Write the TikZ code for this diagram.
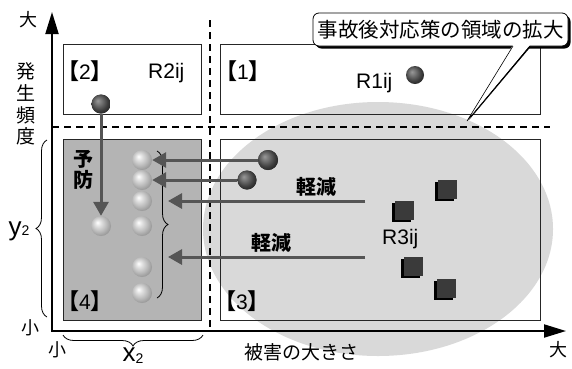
\documentclass[tikz,border=0pt]{standalone}
\usepackage{fontspec}
\setmainfont{Liberation Sans}
\newfontfamily\jp{Noto Sans CJK JP}
\usetikzlibrary{arrows.meta,decorations.pathreplacing,shadings,shadows}
\definecolor{ellg}{HTML}{D9D9D9}
\definecolor{boxg}{HTML}{B4B4B4}
\definecolor{arrg}{HTML}{555555}
\definecolor{sqg}{HTML}{3A3A3A}
\pgfdeclareradialshading{darkballsh}{\pgfpoint{-9bp}{9bp}}{color(0bp)=(black!40); color(10bp)=(black!56); color(22bp)=(black!76); color(34bp)=(black!90); color(50bp)=(black!95)}
\pgfdeclareradialshading{lightballsh}{\pgfpoint{-9bp}{9bp}}{color(0bp)=(white); color(8bp)=(black!12); color(20bp)=(black!28); color(34bp)=(black!48); color(50bp)=(black!58)}
\begin{document}
\begin{tikzpicture}[x=1pt,y=-1pt,
  frame/.style={draw=black!85, line width=0.8pt, inner sep=0pt},
  dline/.style={line width=1.1pt, dash pattern=on 7pt off 5pt},
  axisline/.style={line width=2pt, line join=miter, {Triangle[length=22pt,width=13pt]}-{Triangle[length=22pt,width=13pt]}},
  garrow/.style={draw=arrg, line width=3pt, -{Triangle[length=14pt,width=15pt]}},
  darkball/.style={circle, minimum size=19pt, inner sep=0pt, shading=darkballsh},
  lightball/.style={circle, minimum size=20pt, inner sep=0pt, shading=lightballsh},
  sqr/.style={rectangle, minimum size=19pt, inner sep=0pt, fill=sqg,
    drop shadow={shadow xshift=-2.5pt, shadow yshift=-2.5pt, fill=black, opacity=1}},
  lbl/.style={inner sep=0pt, font=\fontsize{21}{21}\selectfont},
  jlbl/.style={inner sep=0pt, font=\jp\fontsize{18}{18}\selectfont},
  bold/.style={inner sep=0pt, font=\jp\bfseries\fontsize{20}{21}\selectfont, align=center},
  brc/.style={decorate, decoration={brace, amplitude=11pt}, line width=0.8pt}
]
\newcommand\lbra{{\jp\bfseries\fontsize{22}{22}\selectfont 【}}
\newcommand\rbra{{\jp\bfseries\fontsize{22}{22}\selectfont 】}}
\useasboundingbox (0,0) rectangle (572,368);
\fill[white] (0,0) rectangle (572,368);
% ellipse region
\fill[ellg] (378,229) ellipse [x radius=175pt, y radius=127pt];
% dashed dividers
\coordinate (vd1) at (210,20);
\coordinate (vd2) at (210,328);
\coordinate (hd1) at (52,127);
\coordinate (hd2) at (550,127);
\draw[dline] (vd1) -- (vd2);
\draw[dline] (hd1) -- (hd2);
% boxes
\node[frame, minimum width=138pt, minimum height=70pt] (box2) at (132,79) {};
\node[frame, minimum width=320pt, minimum height=70pt] (box1) at (380,79) {};
\node[frame, fill=boxg, minimum width=138pt, minimum height=181pt] (box4) at (132,229.5) {};
\node[frame, minimum width=320pt, minimum height=181pt] (box3) at (380,229.5) {};
% axes
\coordinate (ytop) at (52,12);
\coordinate (orig) at (52,331);
\coordinate (xend) at (566,331);
\draw[axisline] (ytop) -- (orig) -- (xend);
% axis texts
\node[jlbl] (big1) at (28,20) {大};
\node[jlbl] (big2) at (558,350) {大};
\node[jlbl] (small1) at (30,328) {小};
\node[jlbl] (small2) at (57,350) {小};
\node[inner sep=0pt, font=\jp\fontsize{19}{21.7}\selectfont, align=center] (freq) at (26,104) {発\\生\\頻\\度};
\node[inner sep=0pt, font=\jp\fontsize{19}{19}\selectfont] (harm) at (301,352) {被害の大きさ};
% braces
\coordinate (yb1) at (47,317);
\coordinate (yb2) at (47,140);
\draw[brc] (yb1) -- (yb2);
\node[inner sep=0pt, font=\fontsize{26}{26}\selectfont] (ylab) at (19,231) {y\raisebox{0pt}{\fontsize{14}{14}\selectfont 2}};
\coordinate (xb1) at (203,335);
\coordinate (xb2) at (63,335);
\draw[brc] (xb1) -- (xb2);
\node[inner sep=0pt, font=\fontsize{26}{26}\selectfont] (xlab) at (133,356) {x\raisebox{-2pt}{\fontsize{14}{14}\selectfont 2}};
\coordinate (cb1) at (157,151);
\coordinate (cb2) at (157,298);
\draw[brc] (cb1) -- (cb2);
% box labels
\node[lbl, anchor=base west] (t2) at (57,79) {\lbra 2\rbra};
\node[lbl, anchor=base west] (r2) at (148,78) {R2ij};
\node[lbl, anchor=base west] (t1) at (215,79) {\lbra 1\rbra};
\node[lbl, anchor=base west] (r1) at (356,88) {R1ij};
\node[lbl, anchor=base west] (t4) at (57,309) {\lbra 4\rbra};
\node[lbl, anchor=base west] (t3) at (214,309) {\lbra 3\rbra};
\node[lbl, anchor=base west] (r3) at (382,244) {R3ij};
\node[bold] (yobo) at (83,170) {予\\防};
\node[bold] (kg1) at (316,187) {軽減};
\node[bold] (kg2) at (271,243) {軽減};
% balls
\node[darkball] (D2) at (101,104) {};
\node[darkball, minimum size=18pt] (D1) at (415,75) {};
\node[darkball, minimum size=20pt] (Da) at (268,160) {};
\node[darkball] (Db) at (247,180) {};
\node[lightball] (L0) at (101,226) {};
\node[lightball] (L1) at (142,160) {};
\node[lightball] (L2) at (142,180) {};
\node[lightball] (L3) at (142,201) {};
\node[lightball] (L4) at (142,226) {};
\node[lightball] (L5) at (142,267) {};
\node[lightball] (L6) at (142,293) {};
% arrows
\draw[garrow] (D2) -- (L0);
\draw[garrow] (Da) -- (L1);
\draw[garrow] (Db) -- (L2);
\coordinate (a3s) at (365,201);
\coordinate (a3e) at (168,201);
\coordinate (a4s) at (365,257);
\coordinate (a4e) at (168,257);
\draw[garrow] (a3s) -- (a3e);
\draw[garrow] (a4s) -- (a4e);
% redraw balls on top of arrow lines
\node[darkball] at (D2.center) {};
\node[darkball, minimum size=20pt] at (Da.center) {};
\node[darkball] at (Db.center) {};
% squares
\node[sqr] (S1) at (447,189) {};
\node[sqr] (S2) at (404,210) {};
\node[sqr] (S3) at (413,266) {};
\node[sqr] (S4) at (446,288) {};
% callout
\coordinate (w1) at (513,46);
\coordinate (w2) at (530,46);
\coordinate (ptr) at (467,121);
\fill[black] (516,44) -- (533,44) -- (469,120) -- cycle;
\node[draw, line width=0.8pt, fill=white, rounded corners=6pt, minimum width=255pt, minimum height=33pt,
  inner sep=0pt, font=\jp\fontsize{20.5}{20.5}\selectfont,
  drop shadow={shadow xshift=2.5pt, shadow yshift=-2.5pt, fill=black, opacity=1}] (callout) at (440.5,29.5) {事故後対応策の領域の拡大};
\fill[white] (513,45) -- (530,45) -- (ptr) -- cycle;
\draw[line width=0.6pt] (w1) -- (ptr) -- (w2);
\end{tikzpicture}
\end{document}
